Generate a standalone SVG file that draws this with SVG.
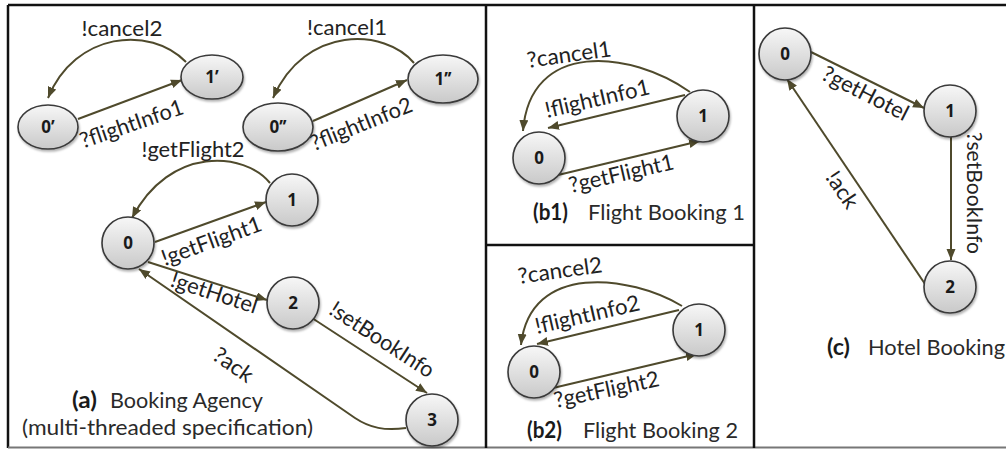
<svg xmlns="http://www.w3.org/2000/svg" width="1006" height="449" viewBox="0 0 1006 449">
  <style>
    .frame { stroke: #111; stroke-width: 2.5; fill: none; }
    .edge { stroke: #4f4a2c; stroke-width: 2; fill: none; marker-end: url(#arrow); }
    .node { fill: url(#nodeFill); stroke: #3a3a3a; stroke-width: 1.6; filter: url(#soft); }
    .nlabel { font-family: "Open Sans", "DejaVu Sans", sans-serif; font-weight: bold; font-size: 17px; fill: #1a1a1a; text-anchor: middle; }
    .elabel { font-family: Lato, "Open Sans", sans-serif; font-size: 22px; fill: #222; text-anchor: middle; }
    .cap { font-family: Lato, "Open Sans", sans-serif; font-size: 22px; fill: #2a2a2a; }
    .capb { font-family: Lato, "Open Sans", sans-serif; font-size: 22px; font-weight: bold; fill: #1a1a1a; }
  </style>
  <defs>
    <linearGradient id="nodeFill" x1="0" y1="0" x2="0" y2="1">
      <stop offset="0" stop-color="#f7f7f7"/>
      <stop offset="1" stop-color="#c9c9c9"/>
    </linearGradient>
    <filter id="soft" x="-30%" y="-30%" width="160%" height="160%">
      <feDropShadow dx="1" dy="2" stdDeviation="1.2" flood-color="#000" flood-opacity="0.3"/>
    </filter>
    <marker id="arrow" markerUnits="userSpaceOnUse" markerWidth="12" markerHeight="10" refX="11" refY="4.5" orient="auto">
      <path d="M0,0 L11,4.5 L0,9 Z" fill="#4f4a2c"/>
    </marker>
  </defs>

  <!-- panel frames -->
  <g id="frames">
    <line class="frame" x1="8" y1="5" x2="1006" y2="5"/>
    <line class="frame" x1="8" y1="5" x2="8" y2="448"/>
    <line x1="8" y1="447.5" x2="1006" y2="447.5" stroke="#777" stroke-width="2"/>
    <line class="frame" x1="486" y1="5" x2="486" y2="448"/>
    <line class="frame" x1="754" y1="5" x2="754" y2="448"/>
    <line class="frame" x1="486" y1="245" x2="754" y2="245"/>
  </g>

  <!-- connectors -->
  <g id="connectors">
    <!-- (a) booking agency -->
    <path class="edge" d="M78,119 L182,80"/>
    <path class="edge" d="M186,62 C150,25 75,32 48,98"/>
    <path class="edge" d="M313,121 L407,80"/>
    <path class="edge" d="M414,63 C385,28 305,25 273,98"/>
    <path class="edge" d="M155,242 L266,202"/>
    <path class="edge" d="M270,183 C245,152 170,145 132,218"/>
    <path class="edge" d="M148,262 L267,300"/>
    <path class="edge" d="M312,318 L427,393"/>
    <path class="edge" d="M406,428 C385,431 370,428 355,418 L139,269"/>
    <!-- (b1) flight booking 1 -->
    <path class="edge" d="M558,175 L700,141"/>
    <path class="edge" d="M685,95 L548,128"/>
    <path class="edge" d="M690,92 C630,50 530,40 523,131"/>
    <!-- (b2) flight booking 2 -->
    <path class="edge" d="M553,388 L697,354"/>
    <path class="edge" d="M679,310 L537,344"/>
    <path class="edge" d="M682,306 C630,275 530,262 521,345"/>
    <!-- (c) hotel booking -->
    <path class="edge" d="M811,52 L924,108"/>
    <path class="edge" d="M951,137 L951,260"/>
    <path class="edge" d="M925,284 L787,79"/>
  </g>

  <!-- edge labels -->
  <g id="edge-labels">
    <text class="elabel" x="122" y="36" textLength="81" lengthAdjust="spacingAndGlyphs">!cancel2</text>
    <text class="elabel" transform="translate(134,131) rotate(-19)" textLength="108" lengthAdjust="spacingAndGlyphs">?flightInfo1</text>
    <text class="elabel" x="347" y="35" textLength="80" lengthAdjust="spacingAndGlyphs">!cancel1</text>
    <text class="elabel" transform="translate(364,131) rotate(-22)" textLength="108" lengthAdjust="spacingAndGlyphs">?flightInfo2</text>
    <text class="elabel" x="193" y="157" textLength="103" lengthAdjust="spacingAndGlyphs">!getFlight2</text>
    <text class="elabel" transform="translate(214,248) rotate(-20)" textLength="105" lengthAdjust="spacingAndGlyphs">!getFlight1</text>
    <text class="elabel" transform="translate(212,300) rotate(18)" textLength="90" lengthAdjust="spacingAndGlyphs">!getHotel</text>
    <text class="elabel" transform="translate(378,346) rotate(33)" textLength="120" lengthAdjust="spacingAndGlyphs">!setBookInfo</text>
    <text class="elabel" transform="translate(229,371) rotate(35)" textLength="44" lengthAdjust="spacingAndGlyphs">?ack</text>

    <text class="elabel" transform="translate(570,62) rotate(-8)" textLength="85" lengthAdjust="spacingAndGlyphs">?cancel1</text>
    <text class="elabel" transform="translate(599,106) rotate(-13)" textLength="107" lengthAdjust="spacingAndGlyphs">!flightInfo1</text>
    <text class="elabel" transform="translate(623,181) rotate(-13)" textLength="107" lengthAdjust="spacingAndGlyphs">?getFlight1</text>

    <text class="elabel" transform="translate(561,278) rotate(-8)" textLength="85" lengthAdjust="spacingAndGlyphs">?cancel2</text>
    <text class="elabel" transform="translate(589,322) rotate(-13)" textLength="107" lengthAdjust="spacingAndGlyphs">!flightInfo2</text>
    <text class="elabel" transform="translate(608,397) rotate(-12)" textLength="107" lengthAdjust="spacingAndGlyphs">?getFlight2</text>

    <text class="elabel" transform="translate(862,100) rotate(27)" textLength="94" lengthAdjust="spacingAndGlyphs">?getHotel</text>
    <text class="elabel" transform="translate(967,193) rotate(90)" textLength="122" lengthAdjust="spacingAndGlyphs">?setBookInfo</text>
    <text class="elabel" transform="translate(836,194) rotate(56)" textLength="40" lengthAdjust="spacingAndGlyphs">!ack</text>
  </g>

  <!-- (a) booking agency, thread 1 -->
  <g id="a-n0p"><ellipse class="node" cx="48" cy="127" rx="30" ry="22"/><text class="nlabel" x="48" y="133">0’</text></g>
  <g id="a-n1p"><ellipse class="node" cx="212" cy="77" rx="31" ry="22"/><text class="nlabel" x="212" y="83">1’</text></g>
  <!-- (a) booking agency, thread 2 -->
  <g id="a-n0pp"><ellipse class="node" cx="278" cy="127" rx="35" ry="24"/><text class="nlabel" x="278" y="133">0’’</text></g>
  <g id="a-n1pp"><ellipse class="node" cx="443" cy="79" rx="35" ry="24"/><text class="nlabel" x="443" y="85">1’’</text></g>
  <!-- (a) booking agency, main thread -->
  <g id="a-n0"><circle class="node" cx="128" cy="243" r="26"/><text class="nlabel" x="128" y="249">0</text></g>
  <g id="a-n1"><circle class="node" cx="292" cy="200" r="26"/><text class="nlabel" x="292" y="206">1</text></g>
  <g id="a-n2"><circle class="node" cx="293" cy="303" r="26"/><text class="nlabel" x="293" y="309">2</text></g>
  <g id="a-n3"><circle class="node" cx="432" cy="420" r="26"/><text class="nlabel" x="432" y="426">3</text></g>

  <!-- (b1) flight booking 1 -->
  <g id="b1-n0"><circle class="node" cx="539" cy="158" r="26"/><text class="nlabel" x="539" y="164">0</text></g>
  <g id="b1-n1"><circle class="node" cx="703" cy="116" r="26"/><text class="nlabel" x="703" y="122">1</text></g>

  <!-- (b2) flight booking 2 -->
  <g id="b2-n0"><circle class="node" cx="534" cy="372" r="26"/><text class="nlabel" x="534" y="378">0</text></g>
  <g id="b2-n1"><circle class="node" cx="699" cy="330" r="26"/><text class="nlabel" x="699" y="336">1</text></g>

  <!-- (c) hotel booking -->
  <g id="c-n0"><circle class="node" cx="785" cy="54" r="26"/><text class="nlabel" x="785" y="60">0</text></g>
  <g id="c-n1"><circle class="node" cx="950" cy="111" r="26"/><text class="nlabel" x="950" y="117">1</text></g>
  <g id="c-n2"><circle class="node" cx="950" cy="287" r="26"/><text class="nlabel" x="950" y="293">2</text></g>

  <!-- captions -->
  <g id="captions">
    <text class="capb" x="72" y="408" textLength="25" lengthAdjust="spacingAndGlyphs">(a)</text>
    <text class="cap" x="110" y="408" textLength="153" lengthAdjust="spacingAndGlyphs">Booking Agency</text>
    <text class="cap" x="22" y="435" textLength="291" lengthAdjust="spacingAndGlyphs">(multi-threaded specification)</text>

    <text class="capb" x="533" y="220" textLength="35" lengthAdjust="spacingAndGlyphs">(b1)</text>
    <text class="cap" x="588" y="220" textLength="157" lengthAdjust="spacingAndGlyphs">Flight Booking 1</text>

    <text class="capb" x="527" y="438" textLength="35" lengthAdjust="spacingAndGlyphs">(b2)</text>
    <text class="cap" x="583" y="438" textLength="155" lengthAdjust="spacingAndGlyphs">Flight Booking 2</text>

    <text class="capb" x="827" y="355" textLength="23" lengthAdjust="spacingAndGlyphs">(c)</text>
    <text class="cap" x="868" y="355" textLength="137" lengthAdjust="spacingAndGlyphs">Hotel Booking</text>
  </g>
</svg>
